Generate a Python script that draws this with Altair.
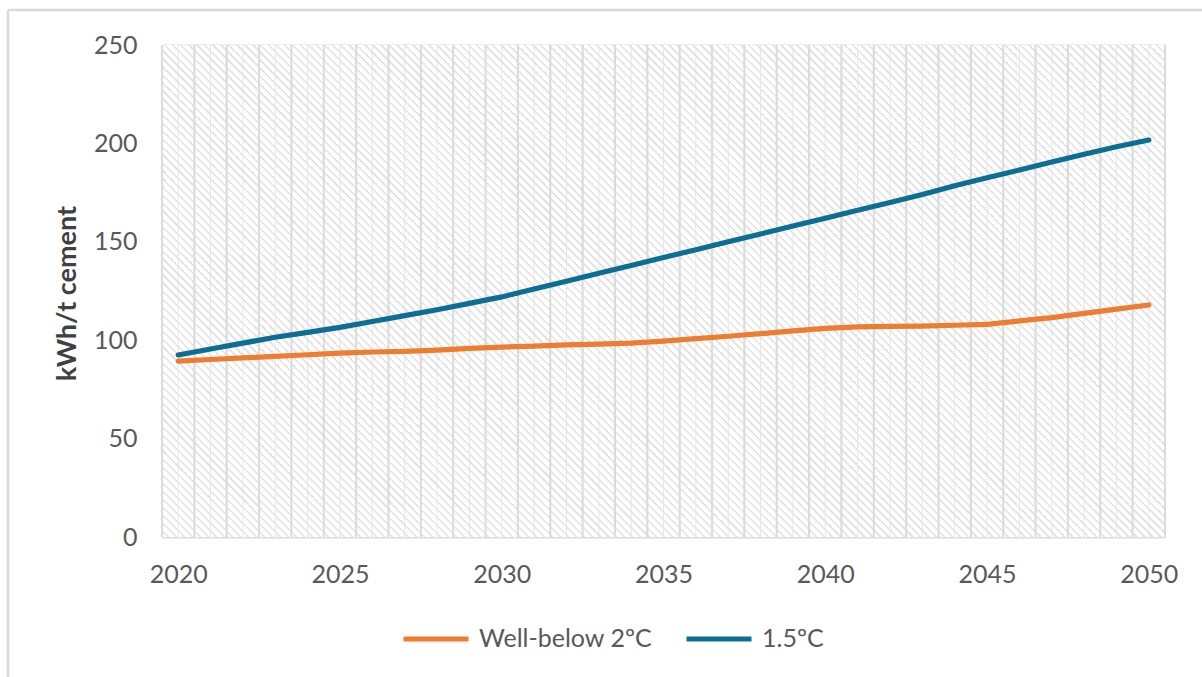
import altair as alt
import pandas as pd

# Electricity intensity of cement production (kWh per tonne of cement)
years = list(range(2020, 2051))
well_below_2c = [89.4, 90.2, 91.0, 91.8, 92.6, 93.4, 94.0, 94.3, 95.0, 95.8,
                 96.5, 97.0, 97.6, 98.0, 98.5, 99.5, 100.8, 102.0, 103.3, 104.7,
                 106.0, 106.8, 107.0, 107.2, 107.6, 108.0, 109.8, 111.5, 113.6, 115.8,
                 117.9]
one_point_five_c = [92.5, 95.5, 98.5, 101.5, 104.0, 106.5, 109.5, 112.5, 115.5, 118.7,
                    122.0, 126.0, 130.0, 134.0, 138.0, 142.0, 146.0, 150.0, 154.0, 158.0,
                    162.0, 166.0, 170.0, 174.0, 178.5, 182.5, 186.5, 190.5, 194.5, 198.3,
                    201.7]
series_names = ["Well-below 2ºC", "1.5ºC"]
series_colors = ["#ED7D31", "#0B6E92"]
x_tick_labels = [2020, 2025, 2030, 2035, 2040, 2045, 2050]
y_ticks = [0, 50, 100, 150, 200, 250]

W, H = 1003, 492
FONT = "Lato"

df = pd.DataFrame({
    "year": years * 2,
    "value": well_below_2c + one_point_five_c,
    "scenario": [series_names[0]] * len(years) + [series_names[1]] * len(years),
})

# category boundaries (major) and centres (minor) for the vertical grid
bounds = pd.DataFrame({"year": [y - 0.5 for y in years] + [years[-1] + 0.5]})
centres = pd.DataFrame({"year": years})

x_scale = alt.Scale(domain=[years[0] - 0.5, years[-1] + 0.5], nice=False, zero=False)
y_scale = alt.Scale(domain=[0, 250], nice=False)
x_axis = alt.Axis(values=x_tick_labels, format="d", grid=False, ticks=False,
                  domain=False, labelFontSize=25, labelColor="#595959",
                  labelFont=FONT, labelPadding=25, title=None)

# diagonal hatch fill for the plot area, built as a striped linear gradient
span = W + H
k = span / (W * W + H * H)
period = 8.0 / span
stripe = 2.2 / span
stops = []
t = 0.0
while t < 1.0:
    stops.append(alt.GradientStop(color="#ffffff", offset=min(t, 1.0)))
    stops.append(alt.GradientStop(color="#ffffff", offset=min(t + period - stripe, 1.0)))
    stops.append(alt.GradientStop(color="#e4e4e4", offset=min(t + period - stripe, 1.0)))
    stops.append(alt.GradientStop(color="#e4e4e4", offset=min(t + period, 1.0)))
    t += period
hatch = alt.LinearGradient(gradient="linear", stops=stops,
                           x1=0, y1=1, x2=k * W, y2=1 - k * H)

one = pd.DataFrame({"a": [0]})
background = alt.Chart(one).mark_rect(fill=hatch, stroke=None).encode(
    x=alt.value(0), x2=alt.value(W), y=alt.value(0), y2=alt.value(H)
)

minor_grid = alt.Chart(centres).mark_rule(color="#e6e6e6", strokeWidth=1).encode(
    x=alt.X("year:Q", scale=x_scale, axis=x_axis)
)
major_grid = alt.Chart(bounds).mark_rule(color="#dcdcdc", strokeWidth=2.2).encode(
    x=alt.X("year:Q", scale=x_scale, axis=x_axis)
)

lines = alt.Chart(df).mark_line(strokeWidth=5.2, strokeCap="round", strokeJoin="round").encode(
    x=alt.X("year:Q", scale=x_scale, axis=x_axis),
    y=alt.Y("value:Q", scale=y_scale,
            axis=alt.Axis(values=y_ticks, grid=True, gridColor="#dcdcdc", gridWidth=2.2,
                          ticks=False, domain=False, labelFontSize=25,
                          labelColor="#595959", labelFont=FONT, labelPadding=25,
                          title="kWh/t cement", titleFont=FONT, titleFontSize=27,
                          titleFontWeight="bold", titleColor="#404040",
                          titleX=-95, titleY=H / 2 + 2, titleAngle=270,
                          titleBaseline="middle", titleAlign="center")),
    color=alt.Color("scenario:N",
                    scale=alt.Scale(domain=series_names, range=series_colors),
                    sort=series_names,
                    legend=alt.Legend(orient="none", legendX=239, legendY=559,
                                      direction="horizontal", title=None,
                                      symbolType="stroke", symbolSize=4225,
                                      symbolStrokeWidth=5, labelFontSize=25,
                                      labelFont=FONT, labelColor="#595959",
                                      labelLimit=400, labelOffset=8,
                                      columnPadding=23, padding=0)),
    order=alt.Order("year:Q"),
)

# outer frame of the figure
frame_top = alt.Chart(one).mark_rule(color="#d9d9d9", strokeWidth=2.5).encode(
    x=alt.value(-154), x2=alt.value(1202 - 162), y=alt.value(-35)
)
frame_left = alt.Chart(one).mark_rule(color="#d9d9d9", strokeWidth=2.5).encode(
    x=alt.value(-154), y=alt.value(-35), y2=alt.value(677 - 45)
)

chart = alt.layer(background, minor_grid, major_grid, lines, frame_top, frame_left).properties(
    width=W, height=H,
    autosize="none",
    padding={"left": 162, "top": 45, "right": 37, "bottom": 140},
    background="#ffffff",
).configure_view(stroke=None)

chart.save("out.html", embed_options={"renderer": "svg", "actions": False})
